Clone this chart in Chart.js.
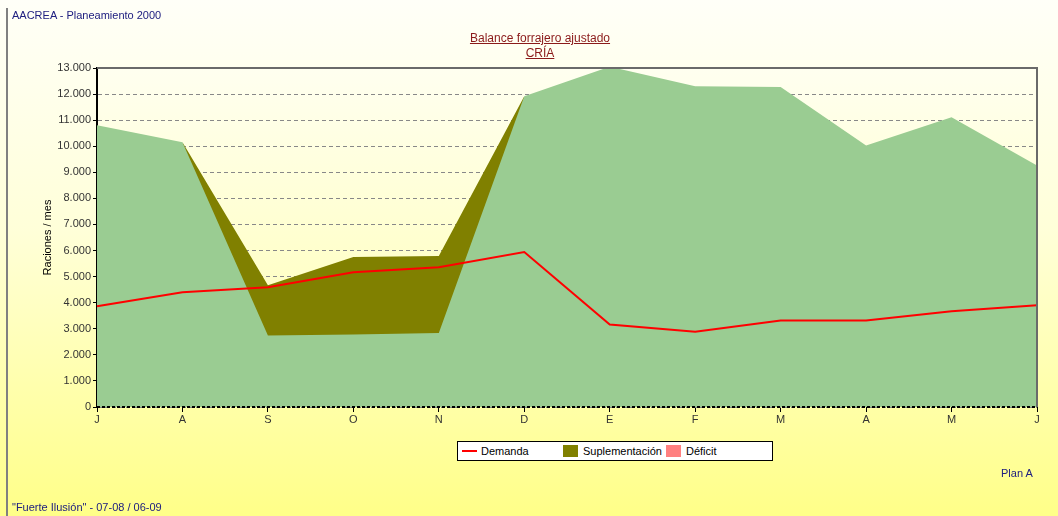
<!DOCTYPE html>
<html>
<head>
<meta charset="utf-8">
<script src="https://cdn.jsdelivr.net/npm/chart.js@4/dist/chart.umd.min.js"></script>
<style>
  html, body { margin: 0; padding: 0; }
  body {
    width: 1058px; height: 516px; overflow: hidden; position: relative;
    background: linear-gradient(to bottom, #fffff8 0%, #ffffd8 45%, #ffff88 100%);
    font-family: Arial, "Liberation Sans", sans-serif;
  }
  #chart { position: absolute; left: 0; top: 0; }
  .lbl { position: absolute; font-size: 11px; color: #202080; white-space: nowrap; }
  .ttl { position: absolute; left: 0; width: 1080px; text-align: center; font-size: 12px;
         color: #8b1a1a; text-decoration: underline; }
  #borde { position: absolute; left: 6px; top: 8px; width: 2px; height: 508px; background: #808080; }
  #leyenda { position: absolute; left: 457px; top: 441px; width: 314px; height: 18px;
             border: 1px solid #000; background: #fff; font-size: 11px; color: #000; }
  #leyenda span { position: absolute; top: 3px; }
  #leyenda i { position: absolute; display: block; }
</style>
</head>
<body>
<div id="borde"></div>
<canvas id="chart" width="1058" height="516"></canvas>
<div class="lbl" style="left:12px;top:9px;">AACREA - Planeamiento 2000</div>
<div class="ttl" style="top:31px;">Balance forrajero ajustado</div>
<div class="ttl" style="top:46px;">CRÍA</div>
<div id="leyenda">
  <i style="left:4px;top:8px;width:15px;height:2px;background:#ff0000;"></i>
  <span style="left:23px;">Demanda</span>
  <i style="left:105px;top:3px;width:15px;height:12px;background:#808000;"></i>
  <span style="left:125px;">Suplementación</span>
  <i style="left:208px;top:3px;width:15px;height:12px;background:#ff8080;"></i>
  <span style="left:228px;">Déficit</span>
</div>
<div class="lbl" style="left:1001px;top:467px;">Plan A</div>
<div class="lbl" style="left:12px;top:501px;">"Fuerte Ilusión" - 07-08 / 06-09</div>

<script>
// meses (julio a junio)
const meses = ['J', 'A', 'S', 'O', 'N', 'D', 'E', 'F', 'M', 'A', 'M', 'J'];

// oferta de forraje (area verde)
const forraje = [10800, 10150, 2740, 2780, 2840, 11920, 13050, 12300, 12270, 10030, 11110, 9260];

// suplementacion, apilada sobre el forraje (null = sin suplemento)
const suplementacion = [null, 0, 1930, 2970, 2950, 0, null, null, null, null, null, null];

// deficit (sin valores en este plan)
const deficit = [null, null, null, null, null, null, null, null, null, null, null, null];

// demanda de raciones
const demanda = [3860, 4400, 4590, 5170, 5360, 5940, 3160, 2890, 3320, 3320, 3670, 3900];

const formatoMiles = v => String(v).replace(/\B(?=(\d{3})+(?!\d))/g, '.');

// fondo degradado del area de grafico, borde gris arriba/derecha y eje X punteado
const fondoPlot = {
  id: 'fondoPlot',
  beforeDraw(chart) {
    const { ctx, chartArea: a } = chart;
    const g = ctx.createLinearGradient(0, a.top, 0, a.bottom);
    g.addColorStop(0, '#fffff0');
    g.addColorStop(1, '#ffffb0');
    ctx.save();
    ctx.fillStyle = g;
    ctx.fillRect(a.left, a.top, a.right - a.left, a.bottom - a.top);
    ctx.restore();
  },
  afterDraw(chart) {
    const { ctx, chartArea: a } = chart;
    ctx.save();
    ctx.strokeStyle = '#6a6a6a';
    ctx.lineWidth = 2;
    ctx.beginPath();
    ctx.moveTo(a.left, a.top);
    ctx.lineTo(a.right, a.top);
    ctx.lineTo(a.right, a.bottom);
    ctx.stroke();
    ctx.strokeStyle = '#000';
    ctx.setLineDash([3, 2]);
    ctx.beginPath();
    ctx.moveTo(a.left, a.bottom);
    ctx.lineTo(a.right, a.bottom);
    ctx.stroke();
    ctx.restore();
  }
};

Chart.defaults.font.family = 'Arial, "Liberation Sans", sans-serif';
Chart.defaults.font.size = 11;
Chart.defaults.color = '#333';

new Chart(document.getElementById('chart'), {
  type: 'line',
  data: {
    labels: meses,
    datasets: [
      {
        label: 'Forraje',
        data: forraje,
        stack: 'oferta',
        borderWidth: 0,
        pointRadius: 0,
        backgroundColor: '#9acc92',
        fill: 'origin'
      },
      {
        label: 'Suplementación',
        data: suplementacion,
        stack: 'oferta',
        borderWidth: 0,
        pointRadius: 0,
        backgroundColor: '#808000',
        fill: 'origin'
      },
      {
        label: 'Déficit',
        data: deficit,
        stack: 'oferta',
        borderWidth: 0,
        pointRadius: 0,
        backgroundColor: '#ff8080',
        fill: false
      },
      {
        label: 'Demanda',
        data: demanda,
        stack: 'demanda',
        borderColor: '#ff0000',
        borderWidth: 2,
        pointRadius: 0,
        fill: false,
        tension: 0,
        order: -1
      }
    ]
  },
  options: {
    responsive: false,
    animation: false,
    layout: { padding: { left: 40, top: 68, right: 21, bottom: 87 } },
    plugins: {
      legend: { display: false },
      tooltip: { enabled: false }
    },
    scales: {
      x: {
        offset: false,
        afterFit: s => { s.height = 22; },
        grid: { drawOnChartArea: false, tickLength: 5, color: '#000' },
        border: { display: false },
        ticks: { padding: 1, color: '#333', maxRotation: 0, autoSkip: false }
      },
      y: {
        stacked: true,
        min: 0,
        max: 13000,
        afterFit: s => { s.width = 57; },
        ticks: { stepSize: 1000, padding: 2, color: '#333', callback: v => formatoMiles(v) },
        grid: { color: '#888', lineWidth: 1, tickLength: 4, tickColor: '#000' },
        border: { color: '#000', width: 2, dash: [4, 3], display: true },
        title: { display: true, text: 'Raciones / mes', color: '#000', padding: { top: 1, bottom: 0 } }
      }
    }
  },
  plugins: [fondoPlot]
});
</script>
</body>
</html>
